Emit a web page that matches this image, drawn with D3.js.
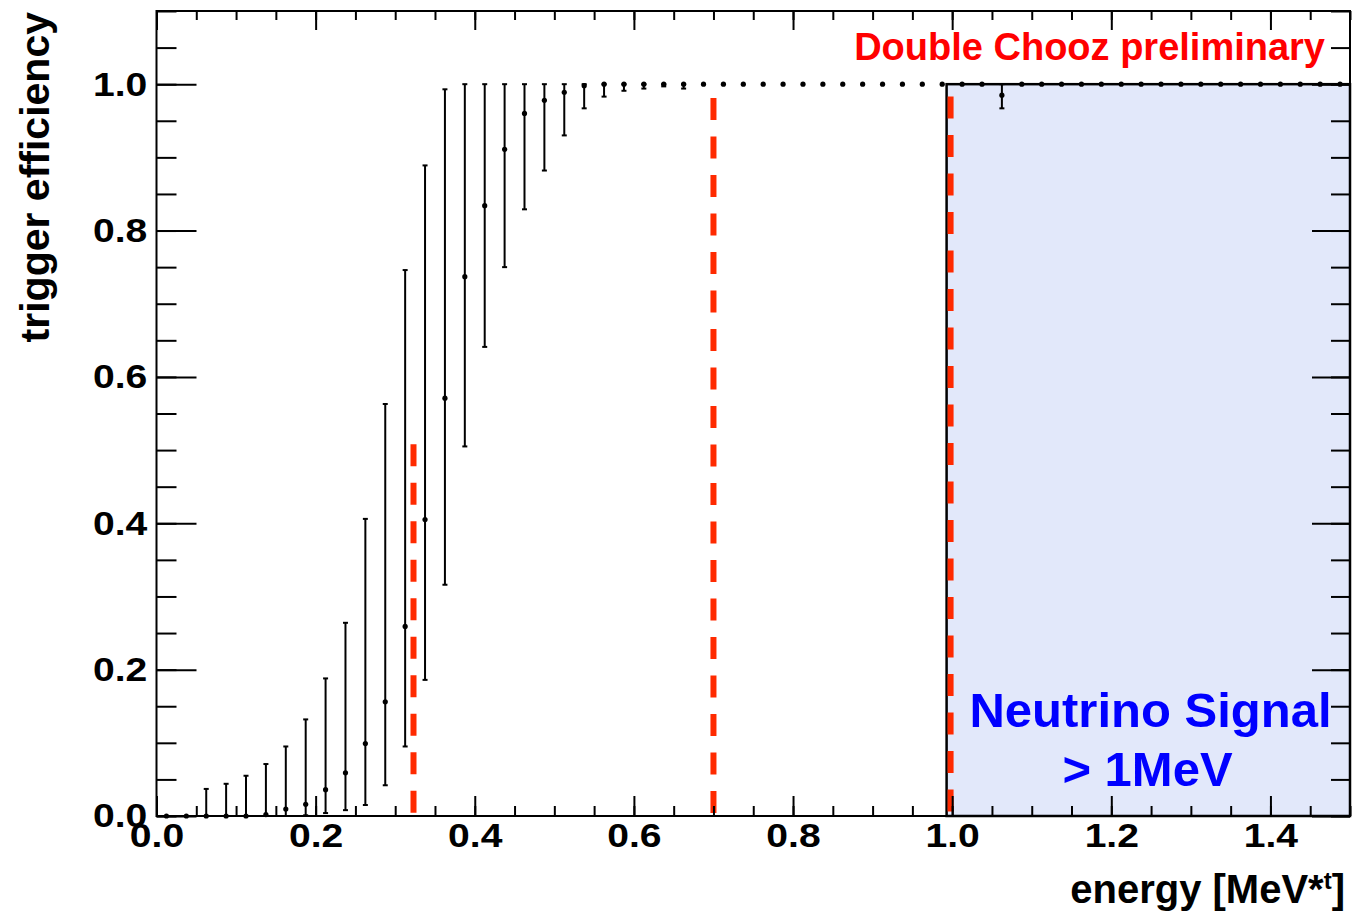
<!DOCTYPE html>
<html>
<head>
<meta charset="utf-8">
<script src="https://cdn.jsdelivr.net/npm/d3@7"></script>
<style>
  html, body { margin: 0; padding: 0; background: #ffffff; }
  svg { display: block; }
</style>
</head>
<body>
<svg id="chart" width="1355" height="911"></svg>
<script>
// Bin centres of the energy histogram [MeV]
const energy = [
  0.0125, 0.0375, 0.0625, 0.0875, 0.1125, 0.1375, 0.1625, 0.1875, 0.2125, 0.2375,
  0.2625, 0.2875, 0.3125, 0.3375, 0.3625, 0.3875, 0.4125, 0.4375, 0.4625, 0.4875,
  0.5125, 0.5375, 0.5625, 0.5875, 0.6125, 0.6375, 0.6625, 0.6875, 0.7125, 0.7375,
  0.7625, 0.7875, 0.8125, 0.8375, 0.8625, 0.8875, 0.9125, 0.9375, 0.9625, 0.9875,
  1.0125, 1.0375, 1.0625, 1.0875, 1.1125, 1.1375, 1.1625, 1.1875, 1.2125, 1.2375,
  1.2625, 1.2875, 1.3125, 1.3375, 1.3625, 1.3875, 1.4125, 1.4375, 1.4625, 1.4875
];

// Measured trigger efficiency per bin
const efficiency = [
  0, 0, 0, 0, 0, 0.002, 0.0095, 0.016, 0.036, 0.059,
  0.099, 0.156, 0.259, 0.405, 0.571, 0.737, 0.834, 0.911, 0.960, 0.978,
  0.989, 0.998, 1.0, 1.0, 1.0, 1.0, 1.0, 1.0, 1.0, 1.0,
  1.0, 1.0, 1.0, 1.0, 1.0, 1.0, 1.0, 1.0, 1.0, 1.0,
  1.0, 1.0, 0.985, 1.0, 1.0, 1.0, 1.0, 1.0, 1.0, 1.0,
  1.0, 1.0, 1.0, 1.0, 1.0, 1.0, 1.0, 1.0, 1.0, 1.0
];

// Lower end of the error interval
const errLow = [
  0, 0, 0, 0, 0, 0, 0, 0.001, 0.004, 0.008,
  0.015, 0.042, 0.095, 0.186, 0.316, 0.505, 0.641, 0.750, 0.829, 0.882,
  0.930, 0.967, 0.983, 0.991, 0.994, 0.997, 0.994, 1.0, 1.0, 1.0,
  1.0, 1.0, 1.0, 1.0, 1.0, 1.0, 1.0, 1.0, 1.0, 1.0,
  1.0, 1.0, 0.967, 1.0, 1.0, 1.0, 1.0, 1.0, 1.0, 1.0,
  1.0, 1.0, 1.0, 1.0, 1.0, 1.0, 1.0, 1.0, 1.0, 1.0
];

// Upper end of the error interval
const errHigh = [
  0, 0, 0.037, 0.044, 0.055, 0.071, 0.095, 0.132, 0.188, 0.264,
  0.406, 0.563, 0.746, 0.889, 0.993, 1.0, 1.0, 1.0, 1.0, 1.0,
  1.0, 1.0, 1.0, 1.0, 1.0, 1.0, 1.0, 1.0, 1.0, 1.0,
  1.0, 1.0, 1.0, 1.0, 1.0, 1.0, 1.0, 1.0, 1.0, 1.0,
  1.0, 1.0, 1.0, 1.0, 1.0, 1.0, 1.0, 1.0, 1.0, 1.0,
  1.0, 1.0, 1.0, 1.0, 1.0, 1.0, 1.0, 1.0, 1.0, 1.0
];

// Axis ticks carrying labels
const xMajorTicks = [0.0, 0.2, 0.4, 0.6, 0.8, 1.0, 1.2, 1.4];
const yMajorTicks = [0.0, 0.2, 0.4, 0.6, 0.8, 1.0];

// Threshold markers: position and how far up each dashed line reaches
const thresholdEnergy = [0.323, 0.70, 0.998];
const thresholdTop = [0.508, 0.981, 0.983];

// Shaded neutrino signal region (energy from/to, efficiency up to)
const signalEnergy = [0.993, 1.5];
const signalTop = 1.0;

const FONT = "'Liberation Sans', Arial, Helvetica, sans-serif";
const W = 1355, H = 911;

const svg = d3.select("#chart");
const x = d3.scaleLinear().domain([0, 1.5]).range([156.5, 1350]);
const y = d3.scaleLinear().domain([0, 1.1]).range([816, 11]);

svg.append("rect").attr("width", W).attr("height", H).attr("fill", "#ffffff");

// Signal region
svg.append("rect")
  .attr("x", x(signalEnergy[0]))
  .attr("y", y(signalTop))
  .attr("width", x(signalEnergy[1]) - x(signalEnergy[0]))
  .attr("height", y(0) - y(signalTop))
  .attr("fill", "#e2e8fa")
  .attr("stroke", "#000000")
  .attr("stroke-width", 2.5);

// Dashed threshold lines, drawn from the top end downwards
svg.append("g").selectAll("line")
  .data(thresholdEnergy)
  .join("line")
  .attr("x1", d => x(d)).attr("x2", d => x(d))
  .attr("y1", (d, i) => y(thresholdTop[i]))
  .attr("y2", y(0))
  .attr("stroke", "#ff2a00")
  .attr("stroke-width", 6)
  .attr("stroke-dasharray", "22,16.5");

// Error bars with small end caps
const bins = energy.map((e, i) => ({ e, v: efficiency[i], lo: errLow[i], hi: errHigh[i] }));
const withErr = bins.filter(b => b.hi - b.lo > 0.0005);
const errG = svg.append("g").attr("stroke", "#000000").attr("stroke-width", 2);
errG.selectAll("line.bar").data(withErr).join("line").attr("class", "bar")
  .attr("x1", b => x(b.e)).attr("x2", b => x(b.e))
  .attr("y1", b => y(b.lo)).attr("y2", b => y(b.hi));
errG.selectAll("line.capHi").data(withErr).join("line").attr("class", "capHi")
  .attr("x1", b => x(b.e) - 2.5).attr("x2", b => x(b.e) + 2.5)
  .attr("y1", b => y(b.hi)).attr("y2", b => y(b.hi));
errG.selectAll("line.capLo").data(withErr).join("line").attr("class", "capLo")
  .attr("x1", b => x(b.e) - 2.5).attr("x2", b => x(b.e) + 2.5)
  .attr("y1", b => y(b.lo)).attr("y2", b => y(b.lo));

// Markers
svg.append("g").selectAll("circle")
  .data(bins)
  .join("circle")
  .attr("cx", b => x(b.e))
  .attr("cy", b => y(b.v))
  .attr("r", 2.6)
  .attr("fill", "#000000");

// Axes: ticks point inwards on all four sides
function addAxis(axis, tx, ty, labelled) {
  const g = svg.append("g")
    .attr("transform", `translate(${tx},${ty})`)
    .call(axis);
  g.select(".domain").remove();
  g.selectAll("line").attr("stroke", "#000000").attr("stroke-width", 2);
  g.attr("font-family", FONT).attr("font-size", 34).attr("font-weight", "bold");
  if (labelled) {
    g.selectAll("text").attr("fill", "#000000").attr("transform", "scale(1.15,1)");
  } else {
    g.selectAll("text").remove();
  }
  return g;
}

const fmt = d3.format(".1f");
const x0 = x(0), x1 = x(1.5), y0 = y(0), y1 = y(1.1);

addAxis(d3.axisBottom(x).tickValues(x.ticks(30)).tickSize(-10), 0, y0, false);
addAxis(d3.axisBottom(x).tickValues(xMajorTicks).tickSize(-20).tickPadding(7).tickFormat(fmt), 0, y0, true);
addAxis(d3.axisTop(x).tickValues(x.ticks(30)).tickSize(-9), 0, y1, false);
addAxis(d3.axisTop(x).tickValues(xMajorTicks).tickSize(-19), 0, y1, false);

addAxis(d3.axisLeft(y).tickValues(y.ticks(22)).tickSize(-20), x0, 0, false);
addAxis(d3.axisLeft(y).tickValues(yMajorTicks).tickSize(-40).tickPadding(8).tickFormat(fmt), x0, 0, true);
addAxis(d3.axisRight(y).tickValues(y.ticks(22)).tickSize(-19), x1, 0, false);
addAxis(d3.axisRight(y).tickValues(yMajorTicks).tickSize(-38), x1, 0, false);

// Frame
svg.append("rect")
  .attr("x", x0).attr("y", y1)
  .attr("width", x1 - x0).attr("height", y0 - y1)
  .attr("fill", "none")
  .attr("stroke", "#000000")
  .attr("stroke-width", 2);

// Axis titles
const xTitle = svg.append("text")
  .attr("x", 1345).attr("y", 903)
  .attr("text-anchor", "end")
  .attr("font-family", FONT).attr("font-size", 40).attr("font-weight", "bold")
  .attr("fill", "#000000");
xTitle.append("tspan").text("energy [MeV*");
xTitle.append("tspan").attr("font-size", 24).attr("dy", -14).text("t");
xTitle.append("tspan").attr("dy", 14).text("]");

svg.append("text")
  .attr("transform", "translate(49,12) rotate(-90)")
  .attr("text-anchor", "end")
  .attr("font-family", FONT).attr("font-size", 41).attr("font-weight", "bold")
  .attr("fill", "#000000")
  .text("trigger efficiency");

// Annotations
svg.append("text")
  .attr("x", 1325).attr("y", 60)
  .attr("text-anchor", "end")
  .attr("font-family", FONT).attr("font-size", 38).attr("font-weight", "bold")
  .attr("fill", "#ff0000")
  .text("Double Chooz preliminary");

svg.append("text")
  .attr("x", 1150.5).attr("y", 727)
  .attr("text-anchor", "middle")
  .attr("font-family", FONT).attr("font-size", 49).attr("font-weight", "bold")
  .attr("fill", "#0000ff")
  .text("Neutrino Signal");

svg.append("text")
  .attr("x", 1147.5).attr("y", 786)
  .attr("text-anchor", "middle")
  .attr("font-family", FONT).attr("font-size", 49).attr("font-weight", "bold")
  .attr("fill", "#0000ff")
  .text("> 1MeV");
</script>
</body>
</html>
